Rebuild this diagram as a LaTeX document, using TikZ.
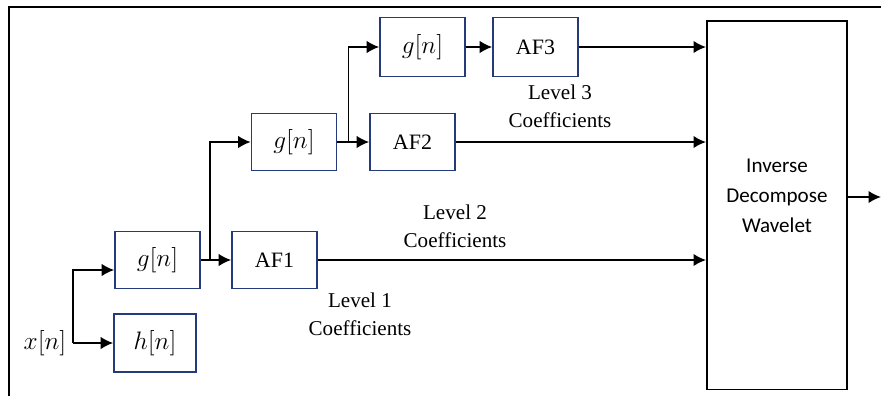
\documentclass[tikz,border=0pt]{standalone}
\usepackage{amsmath, amssymb}
\usepackage{fontspec}
\setmainfont{Liberation Serif}
\newfontfamily\idwfont{Carlito}
\usepackage{tikz}
\usetikzlibrary{arrows, arrows.meta, positioning, calc}
\definecolor{boxblue}{RGB}{36,58,122}

\begin{document}
\begin{tikzpicture}[x=0.02cm, y=-0.02cm, >={Latex[length=2.5mm,width=2.5mm]}, line width=1.1pt,
	blk/.style={draw=boxblue, line width=0.9pt, minimum width=1.7cm, minimum height=1.14cm, font=\fontsize{12.5}{15}\selectfont},
	mth/.style={font=\fontsize{14.4}{16}\selectfont},
	lvl/.style={align=center, font=\fontsize{12}{16}\selectfont}]
			\useasboundingbox (0,0) rectangle (881,396);
			%frame
			\draw[line width=1.3pt] (9,396) -- (9,7) -- (881,7);
			%input
			\node[mth](xn) at (45,343){\(x[n]\)};
			\node[blk, mth, minimum width=1.64cm, minimum height=1.16cm](h) at (155,343){\(h[n]\)};
			\node[blk, mth](g1) at (157.5,260){\(g[n]\)};
			\draw[->] (xn.east) -- (h.west);
			\draw[->] (xn.east) |- ([yshift=-0.2cm]g1.west);
			%level 1
			\node[blk](af1) at (274.5,260){AF1};
			\draw[->] (g1) -- (af1);
			\coordinate (j1) at ($(g1.east)!0.31!(af1.west)$);
			%level 2
			\node[blk, mth](g2) at (294,142){\(g[n]\)};
			\node[blk](af2) at (412.5,142){AF2};
			\draw[->] (j1) |- (g2);
			\draw[->] (g2) -- (af2);
			\coordinate (j2) at ($(g2.east)!0.35!(af2.west)$);
			%level 3
			\node[blk, mth, minimum height=1.18cm](g3) at (422.5,47){\(g[n]\)};
			\node[blk, minimum height=1.18cm](af3) at (535.5,47){AF3};
			\draw[->] (j2) |- (g3);
			\draw[->] (g3) -- (af3);
			%inverse block
			\node[draw, line width=1.1pt, minimum width=2.8cm, minimum height=7.38cm,
				label={[yshift=0.18cm, align=center, font=\idwfont\fontsize{12}{17}\selectfont]center:Inverse\\Decompose\\Wavelet}](idw) at (777,205){};
			\draw[->] (af3) -- (af3 -| idw.west);
			\draw[->] (af2) -- (af2 -| idw.west);
			\draw[->] (af1) -- (af1 -| idw.west);
			\coordinate (out) at (881,197);
			\draw[->] (idw.east |- out) -- (out);
			%nodes
			\node[lvl](l1) at (360,314){Level 1\\Coefficients};
			\node[lvl](l2) at (455,226){Level 2\\Coefficients};
			\node[lvl](l3) at (560,106){Level 3\\Coefficients};
\end{tikzpicture}
\end{document}
